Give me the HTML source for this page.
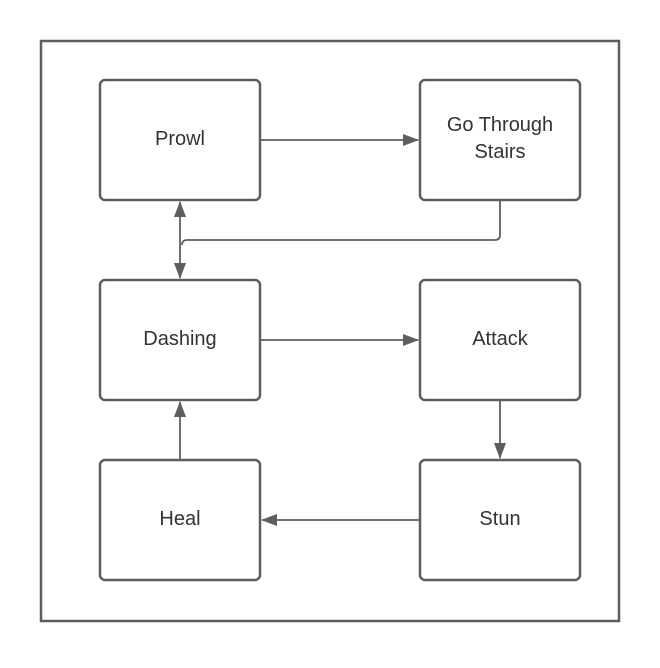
<!DOCTYPE html>
<html><head><style>body{margin:0;background:#fff}</style></head><body>
<svg width="660" height="663" viewBox="0 0 660 663" xmlns="http://www.w3.org/2000/svg" font-family="Liberation Sans, sans-serif">
<defs><marker id="a" markerWidth="16" markerHeight="12" refX="15" refY="6" orient="auto-start-reverse" markerUnits="userSpaceOnUse"><path d="M0,0 L16,6 L0,12 z" fill="#5e5e5e"/></marker></defs>
<rect x="41" y="41" width="578" height="580" fill="none" stroke="#5e5e5e" stroke-width="2.5"/>
<g fill="none" stroke="#5e5e5e" stroke-width="2.5">
<rect x="100" y="80" width="160" height="120" rx="5"/>
<rect x="420" y="80" width="160" height="120" rx="5"/>
<rect x="100" y="280" width="160" height="120" rx="5"/>
<rect x="420" y="280" width="160" height="120" rx="5"/>
<rect x="100" y="460" width="160" height="120" rx="5"/>
<rect x="420" y="460" width="160" height="120" rx="5"/>
</g>
<g fill="none" stroke="#5e5e5e" stroke-width="1.8">
<line x1="261" y1="140" x2="418" y2="140" marker-end="url(#a)"/>
<line x1="180" y1="202" x2="180" y2="278" marker-start="url(#a)" marker-end="url(#a)"/>
<path d="M500 201 V235 Q500 240 495 240 H187 Q182 240 182 245"/>
<line x1="261" y1="340" x2="418" y2="340" marker-end="url(#a)"/>
<line x1="500" y1="401" x2="500" y2="458" marker-end="url(#a)"/>
<line x1="419" y1="520" x2="262" y2="520" marker-end="url(#a)"/>
<line x1="180" y1="459" x2="180" y2="402" marker-end="url(#a)"/>
</g>
<g font-size="20" fill="#333" text-anchor="middle">
<text x="180" y="145">Prowl</text>
<text x="500" y="131">Go Through</text>
<text x="500" y="158">Stairs</text>
<text x="180" y="345">Dashing</text>
<text x="500" y="345">Attack</text>
<text x="180" y="525">Heal</text>
<text x="500" y="525">Stun</text>
</g>
</svg>
</body></html>
